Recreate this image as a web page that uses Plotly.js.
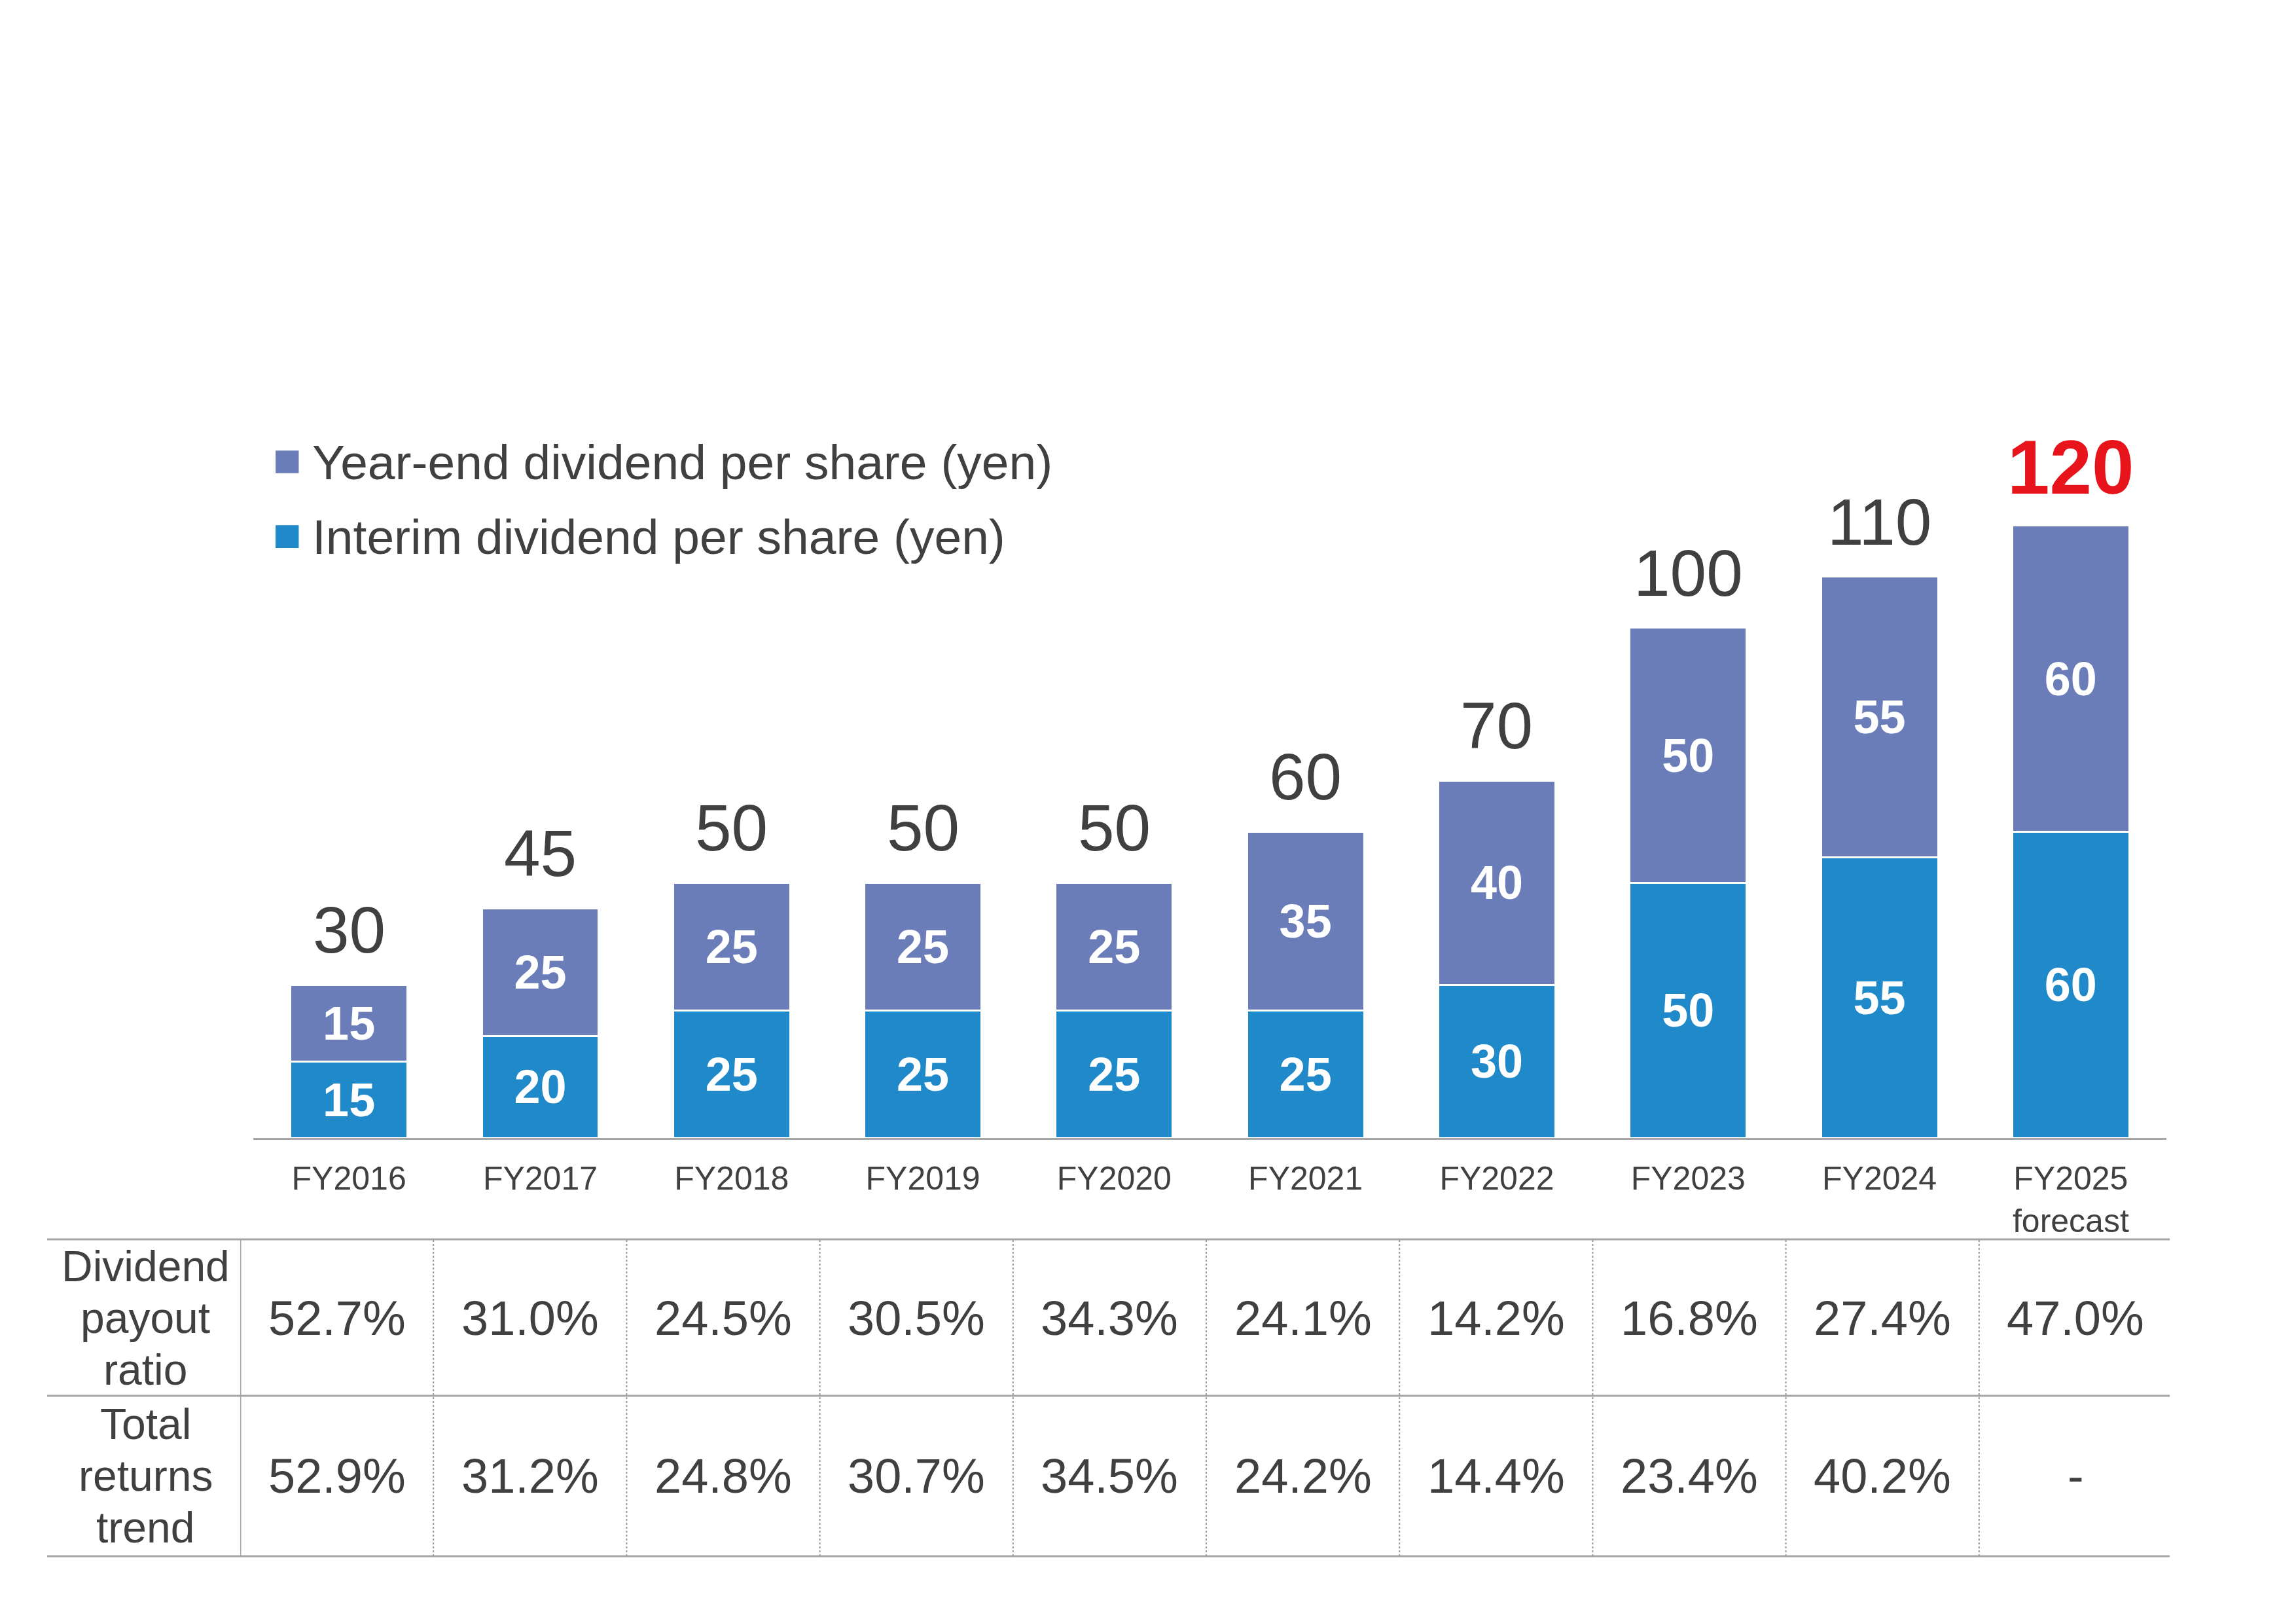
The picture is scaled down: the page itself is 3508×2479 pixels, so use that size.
<!DOCTYPE html>
<html>
<head>
<meta charset="utf-8">
<script src="https://cdn.plot.ly/plotly-3.0.1.min.js"></script>
<style>
  html, body { margin: 0; padding: 0; background: #ffffff; }
  #chart { width: 3508px; height: 2479px; }
</style>
</head>
<body>
<div id="chart"></div>
<script>
// ---- data ----
const categories = ['FY2016','FY2017','FY2018','FY2019','FY2020','FY2021','FY2022','FY2023','FY2024','FY2025'];
const tickLabels = ['FY2016','FY2017','FY2018','FY2019','FY2020','FY2021','FY2022','FY2023','FY2024','FY2025<br>forecast'];
const interim = [15, 20, 25, 25, 25, 25, 30, 50, 55, 60];
const yearEnd = [15, 25, 25, 25, 25, 35, 40, 50, 55, 60];
const totals = [30, 45, 50, 50, 50, 60, 70, 100, 110, 120];
const isForecast = [false, false, false, false, false, false, false, false, false, true];
const payoutRatio = ['52.7%','31.0%','24.5%','30.5%','34.3%','24.1%','14.2%','16.8%','27.4%','47.0%'];
const totalReturns = ['52.9%','31.2%','24.8%','30.7%','34.5%','24.2%','14.4%','23.4%','40.2%','-'];
const rowLabels = ['Dividend<br>payout<br>ratio', 'Total<br>returns<br>trend'];
const seriesNames = ['Year-end dividend per share (yen)', 'Interim dividend per share (yen)'];

// ---- styles ----
const FONT = 'Liberation Sans, Arial, Helvetica, sans-serif';
const TEXT = '#404040';
const BLUE = '#1F89C9';
const PURPLE = '#6B7DB9';
const RED = '#E8141C';
const LINE = '#A6A6A6';

const barText = { family: FONT, size: 72, color: '#ffffff', weight: 700 };

const traces = [
  {
    type: 'bar', x: categories, y: interim, name: seriesNames[1], xaxis: 'x', yaxis: 'y',
    marker: { color: BLUE, line: { color: '#ffffff', width: 3 } },
    text: interim.map(String), textposition: 'inside', insidetextanchor: 'middle',
    textangle: 0, constraintext: 'none', textfont: barText, showlegend: false, hoverinfo: 'skip'
  },
  {
    type: 'bar', x: categories, y: yearEnd, name: seriesNames[0], xaxis: 'x', yaxis: 'y',
    marker: { color: PURPLE, line: { color: '#ffffff', width: 3 } },
    text: yearEnd.map(String), textposition: 'inside', insidetextanchor: 'middle',
    textangle: 0, constraintext: 'none', textfont: barText, showlegend: false, hoverinfo: 'skip'
  }
];

const annotations = [];
const shapes = [];

// totals above bars
categories.forEach((c, i) => {
  annotations.push({
    xref: 'x', yref: 'y', x: c, y: totals[i], yanchor: 'bottom', xanchor: 'center',
    yshift: isForecast[i] ? 22 : 26, showarrow: false, text: String(totals[i]),
    font: isForecast[i] ? { family: FONT, size: 116, color: RED, weight: 700 }
                        : { family: FONT, size: 100, color: TEXT }
  });
});

// legend (custom)
const legendColors = [PURPLE, BLUE];
const legendY = [0.9245, 0.8614];
seriesNames.forEach((n, k) => {
  shapes.push({ type: 'rect', xref: 'paper', yref: 'paper',
    x0: 0.1075, x1: 0.1184, y0: legendY[k] - 0.0096, y1: legendY[k] + 0.0096,
    fillcolor: legendColors[k], line: { width: 0 } });
  annotations.push({ xref: 'paper', yref: 'paper', x: 0.1240, y: legendY[k],
    xanchor: 'left', yanchor: 'middle', showarrow: false, text: n,
    font: { family: FONT, size: 75, color: TEXT } });
});

// table lines
const tableTop = 0.26770, tableMid = 0.13551, tableBot = 0.0;
[tableTop, tableMid, tableBot].forEach(yy => {
  shapes.push({ type: 'line', xref: 'paper', yref: 'paper', x0: 0, x1: 0.9988, y0: yy, y1: yy,
    line: { color: LINE, width: 3 } });
});
shapes.push({ type: 'line', xref: 'x2', yref: 'paper', x0: -0.5, x1: -0.5, y0: tableBot, y1: tableTop,
  line: { color: LINE, width: 3 } });
for (let i = 0; i < categories.length - 1; i++) {
  shapes.push({ type: 'line', xref: 'x2', yref: 'paper', x0: i + 0.5, x1: i + 0.5, y0: tableBot, y1: tableTop,
    line: { color: '#9a9a9a', width: 2, dash: 'dot' } });
}

// table texts
const rowY = [0.2013, 0.0680];
const lineStep = 0.0437;
[payoutRatio, totalReturns].forEach((row, r) => {
  row.forEach((v, i) => {
    annotations.push({ xref: 'x2', yref: 'paper', x: i, y: rowY[r], xanchor: 'center', yanchor: 'middle',
      showarrow: false, text: v, font: { family: FONT, size: 74, color: TEXT } });
  });
  const parts = rowLabels[r].split('<br>');
  parts.forEach((p, j) => {
    annotations.push({ xref: 'paper', yref: 'paper', x: 0.0462,
      y: rowY[r] + (((parts.length - 1) / 2) - j) * lineStep, xanchor: 'center', yanchor: 'middle',
      showarrow: false, text: p, font: { family: FONT, size: 66, color: TEXT } });
  });
});

const layout = {
  width: 3508, height: 2479,
  margin: { l: 72, r: 189, t: 569, b: 102, pad: 0 },
  paper_bgcolor: '#ffffff', plot_bgcolor: 'rgba(0,0,0,0)',
  barmode: 'stack', bargap: 0.388,
  showlegend: false, hovermode: false,
  font: { family: FONT, color: TEXT },
  xaxis: {
    type: 'category', domain: [0.09701, 0.99723], anchor: 'y',
    tickvals: categories, ticktext: tickLabels,
    showline: true, linecolor: LINE, linewidth: 3, showgrid: false, zeroline: false,
    ticks: '', ticklabelstandoff: 16,
    tickfont: { family: FONT, size: 50, color: TEXT }, fixedrange: true
  },
  yaxis: {
    domain: [0.35343, 1], range: [0, 150], visible: false, fixedrange: true
  },
  xaxis2: {
    domain: [0.09085, 1], range: [-0.5, 9.5], anchor: 'y2', visible: false, fixedrange: true
  },
  yaxis2: {
    domain: [0, 0.2677], range: [0, 1], anchor: 'x2', visible: false, fixedrange: true
  },
  annotations: annotations,
  shapes: shapes
};

Plotly.newPlot('chart', traces, layout, { displayModeBar: false, staticPlot: true });
</script>
</body>
</html>
